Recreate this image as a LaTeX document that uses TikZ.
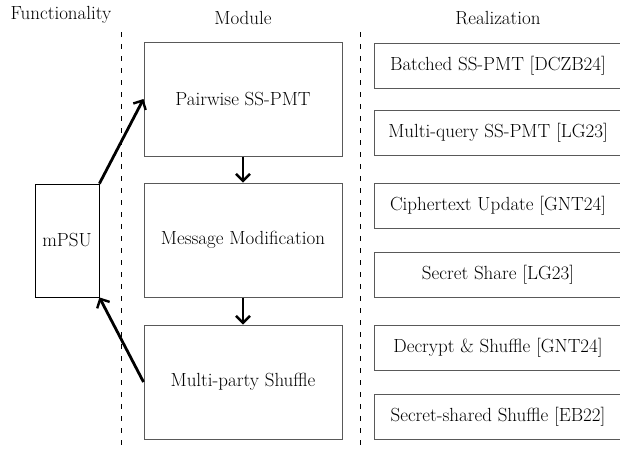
\documentclass[tikz,border=0pt]{standalone}
\usepackage{fontspec}
\usetikzlibrary{arrows.meta}

\tikzset{
  modbox/.style={draw=black!65, line width=1pt, minimum width=198pt, minimum height=114pt, inner sep=0pt},
  realbox/.style={draw=black!65, line width=1pt, minimum width=248pt, minimum height=45pt, inner sep=0pt},
  flow/.style={line width=2.8pt, -{Straight Barb[length=7pt, width=14pt, line width=2.4pt]}},
  sep/.style={dash pattern=on 5pt off 7pt, line width=0.6pt}
}

\begin{document}
\begin{tikzpicture}[x=1pt, y=1pt, font=\fontsize{19}{23}\selectfont]
\useasboundingbox (0, 0) rectangle (620, -451);
% headings
\node (hfun) at (61, -15) {Functionality};
\node (hmod) at (243, -18) {Module};
\node (hreal) at (498, -18) {Realization};
\draw [sep] (121, -32) -- (121, -451);
\draw [sep] (360, -32) -- (360, -451);
% functionality
\node [draw, line width=0.8pt, minimum width=64pt, minimum height=113pt, inner sep=0pt] (mpsu) at (67, -240.5) {mPSU};
% modules
\node [modbox] (pairwise) at (243, -99) {Pairwise SS-PMT};
\node [modbox] (modif) at (243, -240) {Message Modification};
\node [modbox] (shuffle) at (243, -382) {Multi-party Shuffle};
% realizations
\node [realbox] (batched) at (498, -65.5) {Batched SS-PMT [DCZB24]};
\node [realbox] (multiq) at (498, -132.5) {Multi-query SS-PMT [LG23]};
\node [realbox] (cipher) at (498, -205.5) {Ciphertext Update [GNT24]};
\node [realbox] (share) at (498, -274.5) {Secret Share [LG23]};
\node [realbox] (decshuf) at (498, -347.5) {Decrypt \& Shuffle [GNT24]};
\node [realbox] (ssshuf) at (498, -416.5) {Secret-shared Shuffle [EB22]};
% arrows
\draw [flow] (mpsu.north east) -- (pairwise.west);
\draw [flow] (pairwise.south) -- (modif.north);
\draw [flow] (modif.south) -- (shuffle.north);
\draw [flow] (shuffle.west) -- (mpsu.south east);
\end{tikzpicture}
\end{document}
